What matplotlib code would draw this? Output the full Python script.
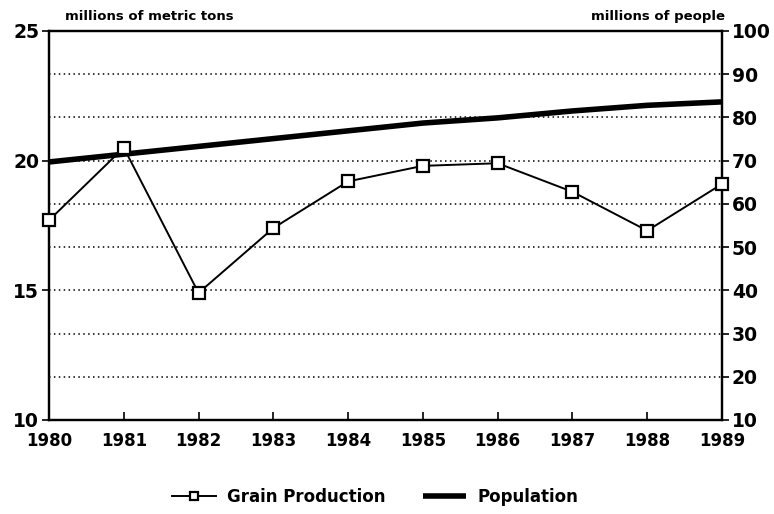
import matplotlib.pyplot as plt

years = [1980, 1981, 1982, 1983, 1984, 1985, 1986, 1987, 1988, 1989]
grain = [17.7, 20.5, 14.9, 17.4, 19.2, 19.8, 19.9, 18.8, 17.3, 19.1]
population = [69.7, 71.5, 73.3, 75.1, 76.9, 78.7, 79.9, 81.5, 82.8, 83.6]

left_ticks = [10, 15, 20, 25]
right_ticks = [10, 20, 30, 40, 50, 60, 70, 80, 90, 100]

plt.rcParams['font.family'] = ['DejaVu Sans']
plt.rcParams['font.weight'] = 'bold'

fig = plt.figure(figsize=(7.74, 5.14), dpi=100)
ax = fig.add_axes([0.0633, 0.1829, 0.8695, 0.7568])
ax2 = ax.twinx()

# grid lines belong to the right-hand scale
for v in right_ticks[1:-1]:
    ax2.axhline(v, color='black', lw=1.1, ls=(0, (1, 2.2)), zorder=0)

ax2.plot(years, population, color='black', lw=4, solid_capstyle='butt',
         label='Population', zorder=3)
ax.plot(years, grain, color='black', lw=1.4, marker='s', markersize=8,
        markerfacecolor='white', markeredgewidth=1.6, label='Grain Production',
        zorder=4, clip_on=False)

ax.set_zorder(ax2.get_zorder() + 1)
ax.patch.set_visible(False)

ax.set_xlim(1980, 1989)
ax.set_ylim(10, 25)
ax2.set_ylim(10, 100)
ax.set_xticks(years)
ax.set_yticks(left_ticks)
ax2.set_yticks(right_ticks)

ax.tick_params(axis='x', direction='in', length=6, width=1.2, labelsize=12, pad=9)
ax.tick_params(axis='y', direction='out', length=5, width=1.2, labelsize=13.5, pad=2)
ax2.tick_params(axis='y', direction='out', length=5, width=1.2, labelsize=13.5, pad=2)
for a in (ax, ax2):
    for s in a.spines.values():
        s.set_linewidth(1.6)

fig.text(0.084, 0.968, 'millions of metric tons', fontsize=9.5, fontweight='heavy',
         ha='left', va='center')
fig.text(0.937, 0.968, 'millions of people', fontsize=9.5, fontweight='heavy',
         ha='right', va='center')

h1, l1 = ax.get_legend_handles_labels()
h2, l2 = ax2.get_legend_handles_labels()
fig.legend(h1 + h2, l1 + l2, loc='center', bbox_to_anchor=(0.485, 0.033), ncol=2,
           frameon=False, fontsize=12, handlelength=2.6, columnspacing=2.2,
           handletextpad=0.7, markerscale=0.8)

fig.savefig('out.png', dpi=100)
